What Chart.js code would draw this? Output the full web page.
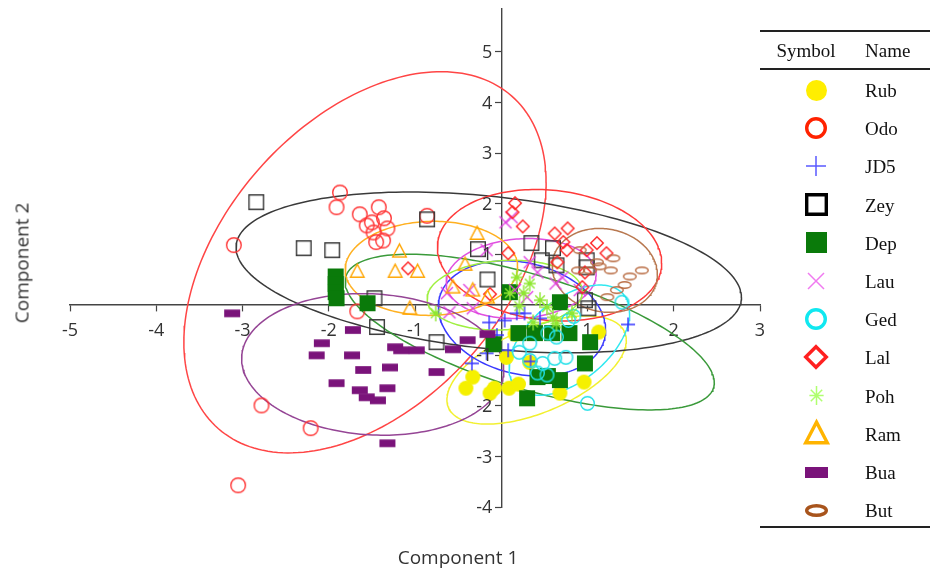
<!DOCTYPE html>
<html><head><meta charset="utf-8">
<script src="https://cdn.jsdelivr.net/npm/chart.js@4.4.0/dist/chart.umd.min.js"></script>
<style>
html,body{margin:0;padding:0;background:#fff;}
#wrap{position:relative;width:930px;height:574px;overflow:hidden;background:#fff;}
canvas#c{position:absolute;left:0;top:0;}
.t{position:absolute;font-family:'Open Sans',sans-serif;color:#333;white-space:nowrap;font-size:19px;line-height:1;}
.lg{position:absolute;font-family:'Liberation Serif','Times New Roman',serif;font-size:19px;color:#111;white-space:nowrap;line-height:1;}
.rule{position:absolute;left:760px;width:170px;background:#222;}
.sym{position:absolute;}
</style></head>
<body><div id="wrap">
<canvas id="c" width="930" height="574"></canvas>
<div class="t" style="left:458px;top:557px;transform:translate(-50%,-50%);">Component 1</div>
<div class="t" style="left:22px;top:263px;transform:translate(-50%,-50%) rotate(-90deg);">Component 2</div>
<div id="legend"></div>
</div>
<script>
// ---- categories ----
const NAMES = ['Rub','Odo','JD5','Zey','Dep','Lau','Ged','Lal','Poh','Ram','Bua','But'];
// ---- axis ticks ----
const X_TICKS = [-5,-4,-3,-2,-1,0,1,2,3];
const Y_TICKS = [-4,-3,-2,-1,0,1,2,3,4,5];
// ---- scores (Component 1, Component 2) ----
const RUB = [[-0.33,-1.43],[-0.41,-1.65],[-0.13,-1.75],[0.09,-1.65],[0.20,-1.57],[0.68,-1.75],[0.96,-1.53],[1.13,-0.54],[0.16,-0.58],[0.06,-1.04],[-0.08,-1.65],[0.33,-1.14]];
const ODO = [[-1.87,2.22],[-1.91,1.93],[-1.64,1.79],[-1.42,1.93],[-1.50,1.63],[-1.36,1.71],[-1.32,1.51],[-1.48,1.43],[-1.37,1.27],[-1.45,1.24],[-1.56,1.57],[-3.10,1.18],[-0.86,1.76],[-1.67,-0.13],[-2.78,-1.99],[-2.21,-2.44],[-3.05,-3.57]];
const JD5 = [[1.47,-0.39],[-0.34,-1.16],[-0.17,-0.96],[0.08,-0.90],[0.34,-1.12],[0.04,-0.31],[0.18,-0.17],[0.27,-0.17],[-0.14,-0.35],[0.45,-0.27],[-0.05,-0.60]];
const ZEY = [[-2.84,2.03],[-2.29,1.12],[-1.96,1.08],[-0.86,1.69],[-1.47,0.13],[-1.44,-0.44],[-0.75,-0.74],[-0.27,1.10],[-0.16,0.50],[0.35,1.22],[0.60,1.12],[0.47,0.88],[0.64,0.78],[0.99,0.88],[0.99,0.74],[0.97,0.09],[1.01,-0.07]];
const DEP = [[-1.92,0.56],[-1.92,0.41],[-1.92,0.25],[-1.91,0.13],[-1.55,0.03],[-0.09,-0.78],[0.10,0.25],[0.20,-0.56],[0.39,-0.56],[0.59,-0.56],[0.79,-0.56],[0.68,0.05],[1.03,-0.74],[0.97,-1.16],[0.42,-1.43],[0.68,-1.49],[0.30,-1.85],[0.54,-1.41]];
const LAU = [[0.12,1.73],[0.05,1.63],[-0.17,1.08],[0.33,0.84],[0.42,0.64],[0.16,0.29],[0.71,0.54],[0.91,0.29],[-0.37,0.29],[0.30,0.15],[-0.60,-0.15],[-0.63,0.23],[0.63,0.42],[-0.33,-0.07]];
const GED = [[0.33,-0.76],[0.54,-0.56],[0.64,-0.64],[0.78,-0.31],[0.33,-1.10],[0.48,-1.16],[0.62,-1.06],[0.75,-1.04],[0.42,-1.35],[0.53,-1.39],[1.00,-1.95],[1.40,0.05],[0.84,-0.23],[0.21,-0.94]];
const LAL = [[0.16,2.01],[0.13,1.83],[0.25,1.55],[0.08,1.02],[-0.13,0.21],[0.62,1.41],[0.77,1.51],[0.72,1.24],[0.76,1.08],[1.11,1.22],[1.22,1.02],[0.99,1.08],[0.94,0.35],[-1.08,0.72],[0.65,0.84],[0.97,0.64]];
const POH = [[0.18,0.54],[0.33,0.42],[0.26,0.23],[0.10,0.23],[0.37,-0.35],[0.60,-0.25],[0.64,-0.37],[0.82,-0.17],[0.53,-0.05],[-0.76,-0.17],[0.45,0.09],[0.21,-0.03]];
const RAM = [[-0.28,1.41],[-1.18,1.06],[-1.23,0.66],[-0.97,0.66],[-1.06,-0.07],[-1.67,0.66],[-0.42,0.80],[-0.33,0.29],[-0.56,0.35],[-0.16,0.15]];
const BUA = [[-3.12,-0.17],[-2.08,-0.76],[-2.14,-1.00],[-1.72,-0.50],[-1.73,-1.00],[-1.60,-1.29],[-1.29,-1.24],[-1.91,-1.55],[-1.64,-1.69],[-1.56,-1.83],[-1.43,-1.89],[-1.32,-1.65],[-1.23,-0.84],[-1.16,-0.90],[-0.98,-0.90],[-0.75,-1.33],[-1.32,-2.74],[-0.56,-0.88],[-0.39,-0.70],[-0.16,-0.58]];
const BUT = [[0.91,1.08],[1.11,0.84],[1.30,0.92],[1.27,0.68],[1.49,0.56],[1.63,0.68],[1.43,0.39],[1.34,0.29],[1.23,0.15],[1.03,0.68],[1.14,0.76],[0.89,0.68]];
// ---- confidence ellipses: [centre x, centre y, half-width x, half-height y, correlation] ----
const ELL_RUB = [0.41,-1.29,1.04,1.07,0.55];
const ELL_ODO = [-1.58,0.84,2.10,3.77,0.42];
const ELL_JD5 = [0.24,-0.27,0.97,1.14,-0.20];
const ELL_ZEY = [-0.145,0.64,2.93,1.59,-0.31];
const ELL_DEP = [0.33,-0.54,2.14,1.54,-0.65];
const ELL_LAU = [0.23,0.52,0.87,0.79,0.10];
const ELL_GED = [0.79,-0.70,0.70,1.09,0.50];
const ELL_LAL = [0.56,0.98,1.30,1.30,-0.12];
const ELL_POH = [0.04,0.19,0.90,0.69,0.10];
const ELL_RAM = [-0.81,0.72,1.00,0.93,0.03];
const ELL_BUA = [-1.49,-1.18,1.52,1.40,-0.08];
const ELL_BUT = [1.20,0.68,0.61,0.83,-0.10];

const SCORES = [RUB,ODO,JD5,ZEY,DEP,LAU,GED,LAL,POH,RAM,BUA,BUT];
const ELLIPSES = [ELL_RUB,ELL_ODO,ELL_JD5,ELL_ZEY,ELL_DEP,ELL_LAU,ELL_GED,ELL_LAL,ELL_POH,ELL_RAM,ELL_BUA,ELL_BUT];

// ---- styles ----
const STYLE = [
  {kind:'circleFill', color:'#f5f000', ell:'#f2f030', lcolor:'#ffee00', size:15},
  {kind:'circle', color:'#ff3535', ell:'#ff4545', lcolor:'#ff2200', size:16},
  {kind:'plus', color:'#3333ff', ell:'#3a3aff', lcolor:'#5a5aff', size:14},
  {kind:'square', color:'#383838', ell:'#3a3a3a', lcolor:'#000000', size:16},
  {kind:'squareFill', color:'#0a7a0a', ell:'#3a9a3a', lcolor:'#0a7a0a', size:16},
  {kind:'x', color:'#e040e0', ell:'#e050e0', lcolor:'#f07af0', size:12},
  {kind:'circle', color:'#22e0e8', ell:'#30e8f0', lcolor:'#10e8f0', size:15},
  {kind:'diamond', color:'#ff2020', ell:'#ff3a3a', lcolor:'#ff2020', size:14},
  {kind:'star', color:'#8fe830', ell:'#9ff040', lcolor:'#b0ff70', size:16},
  {kind:'triangle', color:'#ffa500', ell:'#ffb020', lcolor:'#ffb400', size:15},
  {kind:'rectFill', color:'#7a137a', ell:'#954595', lcolor:'#7a137a', size:16},
  {kind:'oval', color:'#b86a40', ell:'#b87850', lcolor:'#a8541c', size:14}
];

function drawMarker(ctx, kind, cx, cy, s, color, lw){
  ctx.save();
  ctx.strokeStyle = color; ctx.fillStyle = color; ctx.lineWidth = lw;
  ctx.lineJoin = 'miter';
  const h = s/2;
  ctx.beginPath();
  switch(kind){
    case 'circleFill': ctx.arc(cx,cy,h,0,Math.PI*2); ctx.fill(); break;
    case 'circle': ctx.arc(cx,cy,h-lw/2,0,Math.PI*2); ctx.stroke(); break;
    case 'plus': ctx.moveTo(cx-h,cy); ctx.lineTo(cx+h,cy); ctx.moveTo(cx,cy-h); ctx.lineTo(cx,cy+h); ctx.stroke(); break;
    case 'square': ctx.rect(cx-h+lw/2,cy-h+lw/2,s-lw,s-lw); ctx.stroke(); break;
    case 'squareFill': ctx.rect(cx-h,cy-h,s,s); ctx.fill(); break;
    case 'x': ctx.moveTo(cx-h,cy-h); ctx.lineTo(cx+h,cy+h); ctx.moveTo(cx+h,cy-h); ctx.lineTo(cx-h,cy+h); ctx.stroke(); break;
    case 'diamond': { const d=h-lw/2; ctx.moveTo(cx,cy-d); ctx.lineTo(cx+d,cy); ctx.lineTo(cx,cy+d); ctx.lineTo(cx-d,cy); ctx.closePath(); ctx.stroke(); break; }
    case 'star': {
      ctx.moveTo(cx,cy-h); ctx.lineTo(cx,cy+h);
      ctx.moveTo(cx-h*0.75,cy); ctx.lineTo(cx+h*0.75,cy);
      const d=h*0.6; ctx.moveTo(cx-d,cy-d); ctx.lineTo(cx+d,cy+d); ctx.moveTo(cx+d,cy-d); ctx.lineTo(cx-d,cy+d);
      ctx.stroke(); break; }
    case 'triangle': { const d=h-lw/2; ctx.moveTo(cx,cy-d*1.05); ctx.lineTo(cx+d,cy+d*0.85); ctx.lineTo(cx-d,cy+d*0.85); ctx.closePath(); ctx.stroke(); break; }
    case 'rectFill': ctx.rect(cx-h,cy-s*0.24,s,s*0.48); ctx.fill(); break;
    case 'oval': ctx.ellipse(cx,cy,h-lw/2,s*0.28-lw/2,0,0,Math.PI*2); ctx.stroke(); break;
  }
  ctx.restore();
}
function markerCanvas(kind, s, color, lw){
  const pad = Math.ceil(lw)+2;
  const c = document.createElement('canvas');
  c.width = s+pad*2; c.height = s+pad*2;
  drawMarker(c.getContext('2d'), kind, c.width/2, c.height/2, s, color, lw);
  return c;
}
function ellipsePts(p){
  const [cx,cy,wx,wy,rho]=p; const phi=Math.acos(rho); const pts=[];
  for(let i=0;i<=200;i++){ const t=i/200*2*Math.PI; pts.push({x:cx+wx*Math.cos(t), y:cy+wy*Math.cos(t-phi)}); }
  return pts;
}

const datasets = [];
NAMES.forEach((n,i)=>{
  const st = STYLE[i];
  datasets.push({
    label: n + ' ellipse', data: ellipsePts(ELLIPSES[i]), showLine: true, fill: false,
    borderColor: st.ell, borderWidth: 1.5, pointRadius: 0, pointHitRadius: 0, tension: 0, order: 300 - i
  });
});
NAMES.forEach((n,i)=>{
  const st = STYLE[i];
  datasets.push({
    label: n, data: SCORES[i].map(p=>({x:p[0], y:p[1]})),
    pointStyle: markerCanvas(st.kind, st.size, st.color, 1.4),
    pointRadius: 8, showLine: false, order: 100 - i,
    backgroundColor: st.color, borderColor: st.color
  });
});

const TICK_FONT = "18px 'Open Sans', sans-serif";
// draws the y-axis tick labels to the left of the centred axis (after tick mark + padding)
const yLabelPlugin = {
  id: 'yLabels',
  afterDraw(chart){
    const ys = chart.scales.y, xs = chart.scales.x, ctx = chart.ctx;
    const x0 = xs.getPixelForValue(0);
    ctx.save();
    ctx.font = TICK_FONT; ctx.fillStyle = '#333';
    ctx.textAlign = 'right'; ctx.textBaseline = 'middle';
    Y_TICKS.forEach(v => { if (v !== 0) ctx.fillText(String(v), x0 - 9, ys.getPixelForValue(v) + 1); });
    ctx.restore();
  }
};

new Chart(document.getElementById('c'), {
  type: 'scatter',
  data: { datasets },
  plugins: [yLabelPlugin],
  options: {
    responsive: false, animation: false, devicePixelRatio: 1,
    layout: { padding: { left: 70, right: 170, top: 8, bottom: 67 } },
    plugins: { legend: { display: false }, tooltip: { enabled: false } },
    scales: {
      x: {
        type: 'linear', position: { y: 0 }, min: X_TICKS[0], max: X_TICKS[X_TICKS.length-1],
        afterBuildTicks: s => { s.ticks = X_TICKS.map(v=>({value:v})); },
        ticks: { callback: v => v === 0 ? '' : String(v), color: '#333', padding: 9,
                 font: { family: "'Open Sans', sans-serif", size: 18 }, maxRotation: 0, autoSkip: false },
        grid: { drawOnChartArea: false, drawTicks: true, tickLength: 6, color: '#444', tickWidth: 1.2 },
        border: { display: true, color: '#444', width: 1.4 }
      },
      y: {
        type: 'linear', position: { x: 0 }, min: Y_TICKS[0], max: 5.85,
        afterBuildTicks: s => { s.ticks = Y_TICKS.map(v=>({value:v})); },
        ticks: { display: false, autoSkip: false },
        grid: { drawOnChartArea: false, drawTicks: true, tickLength: 6, color: '#444', tickWidth: 1.2 },
        border: { display: true, color: '#444', width: 1.4 }
      }
    }
  }
});

// ---- legend table ----
const lg = document.getElementById('legend');
function add(html){ lg.insertAdjacentHTML('beforeend', html); }
add('<div class="rule" style="top:30px;height:2px"></div>');
add('<div class="lg" style="left:806px;top:50px;transform:translate(-50%,-50%)">Symbol</div>');
add('<div class="lg" style="left:865px;top:50px;transform:translateY(-50%)">Name</div>');
add('<div class="rule" style="top:68px;height:1.5px"></div>');
add('<div class="rule" style="top:526px;height:2px"></div>');
const LEG_SIZE = {circleFill:21,circle:22,plus:20,square:23,squareFill:21,x:16,diamond:24,star:19,triangle:25,rectFill:23,oval:23};
NAMES.forEach((n,i)=>{
  const y = 90 + i*38.2;
  const st = STYLE[i];
  const lw = (st.kind==='plus'||st.kind==='x'||st.kind==='star') ? 1.5 : 3.4;
  const c = markerCanvas(st.kind, LEG_SIZE[st.kind], st.lcolor, lw);
  c.className = 'sym';
  c.style.left = (816 - c.width/2) + 'px';
  c.style.top = (y - c.height/2) + 'px';
  lg.appendChild(c);
  add('<div class="lg" style="left:865px;top:'+y+'px;transform:translateY(-50%)">'+n+'</div>');
});
</script>
</body></html>
